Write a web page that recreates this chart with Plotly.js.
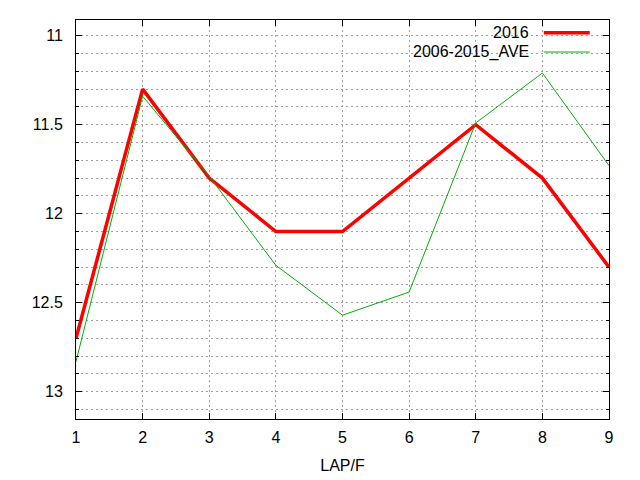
<!DOCTYPE html>
<html>
<head>
<meta charset="utf-8">
<script src="https://cdn.plot.ly/plotly-3.0.1.min.js"></script>
<style>html,body{margin:0;padding:0;background:#fff;}#chart{width:640px;height:480px;}</style>
</head>
<body>
<div id="chart"></div>
<script>
var laps = [1, 2, 3, 4, 5, 6, 7, 8, 9];
var series2016 = [12.70, 11.30, 11.80, 12.10, 12.10, 11.80, 11.50, 11.80, 12.30];
var seriesAve = [12.83, 11.34, 11.79, 12.29, 12.57, 12.44, 11.49, 11.21, 11.73];
var name2016 = '2016';
var nameAve = '2006-2015_AVE';

var font = {family: 'Liberation Sans, Arial, sans-serif', size: 16, color: '#000'};

var traces = [
  {x: laps, y: series2016, name: name2016, mode: 'lines', line: {color: '#ff0000', width: 3.5}},
  {x: laps, y: seriesAve, name: nameAve, mode: 'lines', line: {color: '#00b000', width: 1}}
];

var L = 75.5, R = 609.3, T = 20.3, B = 419.3;
function px(x) { return (x - L) / (R - L); }
function py(y) { return (B - y) / (B - T); }

var layout = {
  width: 640, height: 480,
  margin: {l: L, r: 640 - R, t: T, b: 480 - B, pad: 0},
  paper_bgcolor: '#fff', plot_bgcolor: '#fff',
  font: font,
  showlegend: false,
  xaxis: {
    range: [1, 9], dtick: 1, tick0: 1,
    showline: true, linecolor: '#000', linewidth: 1, mirror: 'ticks',
    ticks: 'inside', ticklen: 6, tickcolor: '#000',
    showgrid: true, gridcolor: '#a0a0a0', griddash: '2px,3px', gridwidth: 1,
    zeroline: false,
    tickfont: font, ticklabelstandoff: 4,
    title: {text: 'LAP/F', font: font, standoff: 14}
  },
  yaxis: {
    range: [13.153, 10.912], dtick: 0.5, tick0: 11,
    showline: true, linecolor: '#000', linewidth: 1, mirror: 'ticks',
    ticks: 'inside', ticklen: 6, tickcolor: '#000',
    showgrid: true, gridcolor: '#a0a0a0', griddash: '2px,3px', gridwidth: 1,
    zeroline: false,
    tickfont: font, ticklabelstandoff: 9,
    minor: {dtick: 0.1, tick0: 11, ticks: 'inside', ticklen: 3, tickcolor: '#000', showgrid: true, gridcolor: '#a0a0a0', griddash: '2px,3px', gridwidth: 1}
  },
  shapes: [
    {type: 'rect', xref: 'paper', yref: 'paper', x0: px(405), x1: px(R - 1), y0: py(59), y1: py(T + 0.5), fillcolor: '#fff', line: {width: 0}, layer: 'between'},
    {type: 'line', xref: 'paper', yref: 'paper', x0: px(544), x1: px(590), y0: py(33), y1: py(33), line: {color: '#ff0000', width: 3.5}},
    {type: 'line', xref: 'paper', yref: 'paper', x0: px(544), x1: px(590), y0: py(52.3), y1: py(52.3), line: {color: '#00b000', width: 1}}
  ],
  annotations: [
    {xref: 'paper', yref: 'paper', x: px(531), y: py(33), xanchor: 'right', yanchor: 'middle', text: name2016, showarrow: false, font: {family: font.family, size: 16, color: '#000'}},
    {xref: 'paper', yref: 'paper', x: px(531), y: py(52.3), xanchor: 'right', yanchor: 'middle', text: nameAve, showarrow: false, font: {family: font.family, size: 16, color: '#000'}}
  ]
};

Plotly.newPlot('chart', traces, layout, {staticPlot: true, displayModeBar: false});
</script>
</body>
</html>
